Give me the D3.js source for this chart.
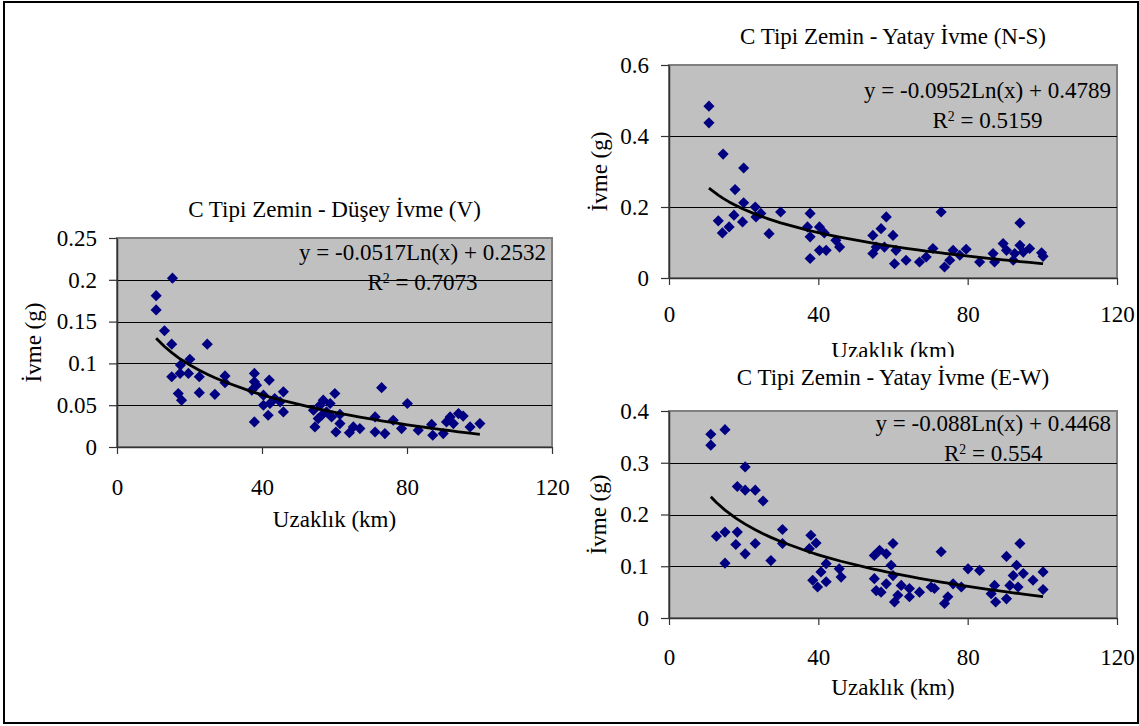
<!DOCTYPE html>
<html>
<head>
<meta charset="utf-8">
<script src="https://cdn.jsdelivr.net/npm/d3@7"></script>
<style>
    body { margin: 0; background: #fff; }
    text { font-family: "Liberation Serif", "Times New Roman", serif; fill: #000; }
</style>
</head>
<body>
<div id="chart"></div>
<script>

// shared x ticks (km)
const distTicks = [0, 40, 80, 120];

// C Tipi Zemin - Düşey İvme (V)
const vDist = [10.8,10.8,15.3,13.1,15.1,24.9,15.1,17.5,20.1,17.4,19.7,22.7,16.9,17.8,22.7,27.0,29.8,29.8,37.9,37.9,
    37.2,37.9,40.4,42.0,40.4,41.7,42.2,45.9,45.9,45.0,54.2,54.6,55.5,56.0,56.9,57.8,58.8,60.1,59.2,60.4,
    61.5,64.1,65.2,67.0,71.2,71.2,73.0,73.9,76.2,78.5,80.1,83.1,86.8,87.1,90.0,90.9,91.9,92.8,94.2,95.5,97.4,100.1,
    38.5,56.5,61.5,43.5];
const vAcc = [0.181,0.164,0.202,0.139,0.123,0.123,0.084,0.098,0.105,0.088,0.088,0.084,0.064,0.056,0.065,0.063,0.085,0.077,0.088,0.078,
    0.068,0.030,0.062,0.080,0.050,0.038,0.052,0.066,0.042,0.054,0.044,0.024,0.034,0.050,0.056,0.042,0.052,0.064,0.036,0.018,
    0.039,0.017,0.024,0.022,0.036,0.018,0.071,0.016,0.032,0.022,0.052,0.020,0.027,0.014,0.016,0.030,0.036,0.028,0.040,0.037,0.024,0.028,
    0.074,0.038,0.028,0.058];
const vTicks = [0, 0.05, 0.1, 0.15, 0.2, 0.25];

// C Tipi Zemin - Yatay İvme (N-S)
const nsDist = [10.7,10.7,14.5,20.0,17.7,20.0,13.2,14.3,16.1,17.4,19.7,23.1,23.3,24.6,26.8,29.9,37.8,37.1,37.8,37.8,
    40.3,40.3,41.6,42.1,45.7,44.7,54.6,54.6,55.5,56.8,58.2,57.7,60.0,60.4,60.8,63.5,67.1,68.9,70.7,72.9,
    73.8,75.2,76.1,77.9,79.6,83.2,86.8,87.2,89.5,90.4,92.2,92.6,94.0,94.0,94.9,96.6,99.8,100.2];
const nsAcc = [0.484,0.437,0.349,0.310,0.249,0.212,0.161,0.127,0.144,0.177,0.158,0.200,0.172,0.182,0.125,0.186,0.182,0.144,0.116,0.055,
    0.144,0.078,0.127,0.078,0.087,0.106,0.120,0.069,0.087,0.139,0.172,0.087,0.120,0.040,0.078,0.050,0.045,0.059,0.083,0.186,
    0.031,0.050,0.078,0.064,0.081,0.045,0.069,0.045,0.097,0.078,0.050,0.069,0.155,0.092,0.073,0.083,0.071,0.061];
const nsTicks = [0, 0.2, 0.4, 0.6];

// C Tipi Zemin - Yatay İvme (E-W)
const ewDist = [11.2,11.2,15.0,20.4,18.3,20.4,23.1,25.2,12.7,15.0,15.0,18.3,17.9,20.4,23.1,27.3,30.4,30.4,38.0,39.4,
    37.6,38.5,39.8,40.7,42.1,42.1,45.6,46.1,55.0,56.4,58.2,60.0,55.0,55.5,56.8,58.2,59.5,60.0,60.4,62.2,
    61.3,64.4,64.4,67.1,70.2,71.1,72.9,73.8,74.7,76.1,78.3,80.1,83.2,86.3,87.2,87.5,90.4,90.4,91.3,92.2,
    93.1,94.0,93.5,94.9,97.5,100.2,100.2];
const ewAcc = [0.355,0.334,0.364,0.292,0.254,0.247,0.247,0.226,0.158,0.166,0.106,0.166,0.142,0.124,0.144,0.111,0.171,0.144,0.160,0.145,
    0.134,0.073,0.060,0.089,0.105,0.070,0.095,0.079,0.121,0.131,0.124,0.144,0.076,0.053,0.050,0.066,0.102,0.082,0.031,0.063,
    0.044,0.057,0.041,0.050,0.060,0.057,0.128,0.028,0.041,0.066,0.060,0.095,0.092,0.047,0.063,0.031,0.119,0.037,0.063,0.082,
    0.102,0.144,0.060,0.086,0.073,0.089,0.055];
const ewTicks = [0, 0.1, 0.2, 0.3, 0.4];

// log trendlines  y = a Ln(x) + b
const titles = ["C Tipi Zemin - Düşey İvme (V)", "C Tipi Zemin - Yatay İvme (N-S)", "C Tipi Zemin - Yatay İvme (E-W)"];
const trendA = [-0.0517, -0.0952, -0.088];
const trendB = [0.2532, 0.4789, 0.4468];
const trendEq = ["y = -0.0517Ln(x) + 0.2532", "y = -0.0952Ln(x) + 0.4789", "y = -0.088Ln(x) + 0.4468"];
const rSquared = ["0.7073", "0.5159", "0.554"];

const xLabel = "Uzaklık (km)";
const yLabel = "İvme (g)";


class ScatterVis {

    constructor(_svg, _idx, _dist, _acc, _yTicks, _layout) {
        this.svg = _svg;
        this.idx = _idx;
        this.dist = _dist;
        this.acc = _acc;
        this.yTicks = _yTicks;
        this.layout = _layout;
        this.initVis();
    }

    initVis() {
        let vis = this;
        let L = vis.layout;
        vis.fontSize = 23;

        vis.g = vis.svg.append("g");

        // white backing (hides the chart above where they overlap)
        if (L.bg) {
            vis.g.append("rect")
                .attr("x", L.bg[0]).attr("y", L.bg[1])
                .attr("width", L.bg[2]).attr("height", L.bg[3])
                .attr("fill", "#fff");
        }

        vis.x = d3.scaleLinear().domain([0, 120]).range([L.x0, L.x1]);
        vis.y = d3.scaleLinear().domain([0, d3.max(vis.yTicks)]).range([L.y1, L.y0]);

        // plot area
        vis.g.append("rect")
            .attr("x", L.x0).attr("y", L.y0)
            .attr("width", L.x1 - L.x0).attr("height", L.y1 - L.y0)
            .attr("fill", "#c0c0c0")
            .attr("stroke", "#808080")
            .attr("stroke-width", 2);

        // gridlines
        vis.g.selectAll(".grid")
            .data(vis.yTicks.slice(1, -1))
            .enter().append("line")
            .attr("class", "grid")
            .attr("x1", L.x0).attr("x2", L.x1)
            .attr("y1", d => Math.round(vis.y(d)) + 0.5)
            .attr("y2", d => Math.round(vis.y(d)) + 0.5)
            .attr("stroke", "#000")
            .attr("stroke-width", 1);

        vis.wrangleData();
    }

    wrangleData() {
        let vis = this;
        vis.points = vis.dist.map((d, i) => ({dist: d, acc: vis.acc[i]}));

        // trendline sampled at the measured distances
        let a = trendA[vis.idx], b = trendB[vis.idx];
        vis.trend = vis.dist.slice().sort((p, q) => p - q)
            .map(d => ({dist: d, acc: a * Math.log(d) + b}));

        vis.updateVis();
    }

    updateVis() {
        let vis = this;
        let L = vis.layout;
        let fs = vis.fontSize;

        vis.g.selectAll(".pt")
            .data(vis.points)
            .enter().append("path")
            .attr("class", "pt")
            .attr("d", d3.symbol().type(d3.symbolSquare).size(62))
            .attr("transform", d => "translate(" + vis.x(d.dist) + "," + vis.y(d.acc) + ") rotate(45)")
            .attr("fill", "#000080");

        vis.g.append("path")
            .datum(vis.trend)
            .attr("fill", "none")
            .attr("stroke", "#000")
            .attr("stroke-width", 2.8)
            .attr("stroke-linejoin", "round")
            .attr("d", d3.line().x(d => vis.x(d.dist)).y(d => vis.y(d.acc)));

        // axes
        let yAxis = d3.axisLeft(vis.y)
            .tickValues(vis.yTicks)
            .tickFormat(d => String(Math.round(d * 100) / 100))
            .tickSize(8).tickSizeOuter(0).tickPadding(12);
        let xAxis = d3.axisBottom(vis.x)
            .tickValues(distTicks)
            .tickSize(7).tickSizeOuter(0).tickPadding(L.xPad);

        let ya = vis.g.append("g")
            .attr("transform", "translate(" + L.x0 + ",0)")
            .call(yAxis);
        let xa = vis.g.append("g")
            .attr("transform", "translate(0," + L.y1 + ")")
            .call(xAxis);

        [ya, xa].forEach(ax => {
            ax.select(".domain").attr("stroke", "#333").attr("stroke-width", 1.5);
            ax.selectAll(".tick line").attr("stroke", "#333").attr("stroke-width", 1.2);
            ax.selectAll("text")
                .style("font-family", "'Liberation Serif', serif")
                .style("font-size", fs + "px")
                .attr("fill", "#000");
        });

        // titles & labels
        vis.g.append("text")
            .attr("x", (L.x0 + L.x1) / 2).attr("y", L.titleY)
            .attr("dy", "0.35em")
            .attr("text-anchor", "middle")
            .style("font-size", fs + "px")
            .text(titles[vis.idx]);

        vis.g.append("text")
            .attr("class", "xlab")
            .attr("x", (L.x0 + L.x1) / 2).attr("y", L.xLabY)
            .attr("dy", "0.35em")
            .attr("text-anchor", "middle")
            .style("font-size", fs + "px")
            .text(xLabel);

        vis.g.append("text")
            .attr("transform", "translate(" + L.yLabX + "," + ((L.y0 + L.y1) / 2) + ") rotate(-90)")
            .attr("dy", "0.35em")
            .attr("text-anchor", "middle")
            .style("font-size", fs + "px")
            .text(yLabel);

        // equation + R2
        let eq = vis.g.append("text")
            .attr("x", L.x1 - 6).attr("y", L.eqY)
            .attr("dy", "0.35em")
            .attr("text-anchor", "end")
            .style("font-size", fs + "px")
            .text(trendEq[vis.idx]);
        let eqLen = eq.node().getComputedTextLength();

        let r2 = vis.g.append("text")
            .attr("x", L.x1 - 6 - eqLen / 2).attr("y", L.eqY + 30)
            .attr("dy", "0.35em")
            .attr("text-anchor", "middle")
            .style("font-size", fs + "px");
        r2.append("tspan").text("R");
        r2.append("tspan").attr("baseline-shift", "super").style("font-size", (fs * 0.6) + "px").text("2");
        r2.append("tspan").text(" = " + rSquared[vis.idx]);
    }
}

let width = 1139, height = 726;
let svg = d3.select("#chart").append("svg")
    .attr("width", width)
    .attr("height", height);

svg.append("rect").attr("width", width).attr("height", height).attr("fill", "#fff");

new ScatterVis(svg, 0, vDist, vAcc, vTicks,
    {x0: 117, x1: 552, y0: 238, y1: 447, xPad: 25, titleY: 209, xLabY: 519, yLabX: 33, eqY: 252});
new ScatterVis(svg, 1, nsDist, nsAcc, nsTicks,
    {x0: 669, x1: 1117, y0: 65, y1: 278, xPad: 21, titleY: 36, xLabY: 350, yLabX: 599, eqY: 90});
new ScatterVis(svg, 2, ewDist, ewAcc, ewTicks,
    {x0: 669, x1: 1117, y0: 411, y1: 618, xPad: 24, titleY: 377, xLabY: 687, yLabX: 598, eqY: 423,
     bg: [578, 357, 559, 360]});

// outer frame
svg.append("rect")
    .attr("x", 4).attr("y", 2)
    .attr("width", 1134).attr("height", 721)
    .attr("fill", "none")
    .attr("stroke", "#000")
    .attr("stroke-width", 2);

</script>
</body>
</html>
